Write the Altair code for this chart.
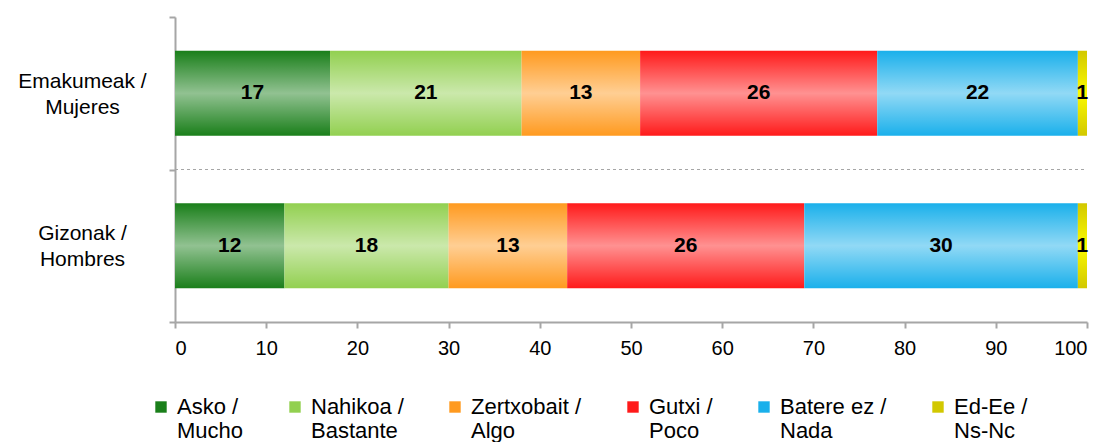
import altair as alt
import pandas as pd

groups = ["Emakumeak / Mujeres", "Gizonak / Hombres"]
categories = ["Asko / Mucho", "Nahikoa / Bastante", "Zertxobait / Algo",
              "Gutxi / Poco", "Batere ez / Nada", "Ed-Ee / Ns-Nc"]
mujeres = [17, 21, 13, 26, 22, 1]
hombres = [12, 18, 13, 26, 30, 1]
colors = ["#1a7f1a", "#92d050", "#ff9a1f", "#ff1a1a", "#1ab0eb", "#d2c800"]

rows = []
for g, vals in zip(groups, [mujeres, hombres]):
    for i, (c, v) in enumerate(zip(categories, vals)):
        rows.append({"group": g, "category": c, "value": v, "order": i})
df = pd.DataFrame(rows)

FONT = "Liberation Sans"
SPLIT = ("isValid(datum.label) && indexof(datum.label, ' / ') >= 0 ? "
         "[split(datum.label, ' / ')[0] + ' /', split(datum.label, ' / ')[1]] : ''")

base = alt.Chart(df).transform_stack(
    stack="value", groupby=["group"], as_=["x0", "x1"],
    sort=[alt.SortField("order", order="ascending")]
).transform_calculate(mid="(datum.x0 + datum.x1) / 2")

yenc = alt.Y("group:N", sort=groups, title=None,
             scale=alt.Scale(paddingInner=0, paddingOuter=0),
             axis=alt.Axis(tickBand="extent", labelExpr=SPLIT,
                           labelAlign="center", labelPadding=87, labelFontSize=21,
                           labelLineHeight=26, labelOffset=-12,
                           labelFont=FONT, labelColor="#000000",
                           labelLimit=300,
                           domainColor="#a6a6a6", domainWidth=2, tickColor="#a6a6a6",
                           tickWidth=2, tickSize=6, grid=False))

xscale = alt.Scale(domain=[0, 100], nice=False)
xaxis = alt.Axis(values=list(range(0, 101, 10)), labelFontSize=20, labelFont=FONT,
                 labelColor="#000000", domainColor="#a6a6a6", domainWidth=2,
                 tickColor="#a6a6a6", tickWidth=2, tickSize=6, labelPadding=10,
                 grid=False, title=None)

bars = base.mark_bar(size=85).encode(
    y=yenc,
    x=alt.X("x0:Q", scale=xscale, axis=xaxis),
    x2="x1:Q",
    color=alt.Color("category:N", sort=categories,
                    scale=alt.Scale(domain=categories, range=colors),
                    legend=alt.Legend(orient="none", legendX=-25, legendY=379,
                                      direction="horizontal", title=None,
                                      symbolType="square", symbolSize=130,
                                      symbolStrokeWidth=0, symbolOpacity=1,
                                      labelFont=FONT, labelFontSize=22,
                                      labelBaseline="middle",
                                      labelOffset=5, columnPadding=40,
                                      labelLimit=300,
                                      labelExpr=SPLIT)),
)

white_grad = alt.Gradient(gradient="linear", x1=0, x2=0, y1=0, y2=1, stops=[
    alt.GradientStop(color="rgba(255,255,255,0)", offset=0),
    alt.GradientStop(color="rgba(255,255,255,0.52)", offset=0.5),
    alt.GradientStop(color="rgba(255,255,255,0)", offset=1),
])
yellow_grad = alt.Gradient(gradient="linear", x1=0, x2=0, y1=0, y2=1, stops=[
    alt.GradientStop(color="rgba(255,255,0,0)", offset=0),
    alt.GradientStop(color="rgba(255,255,0,0.9)", offset=0.5),
    alt.GradientStop(color="rgba(255,255,0,0)", offset=1),
])

shine = base.mark_bar(size=85).encode(
    y=alt.Y("group:N", sort=groups),
    x=alt.X("x0:Q", scale=xscale),
    x2="x1:Q",
    fill=alt.condition(alt.datum.category == "Ed-Ee / Ns-Nc",
                       alt.value(yellow_grad), alt.value(white_grad)),
)

labels = base.mark_text(font=FONT, fontSize=21, fontWeight="bold",
                        color="#000000", baseline="middle").encode(
    y=alt.Y("group:N", sort=groups),
    x=alt.X("mid:Q", scale=xscale),
    text="value:Q",
)

sep = alt.Chart(pd.DataFrame({"group": [groups[1]]})).mark_rule(
    color="#a6a6a6", strokeDash=[3, 3], strokeWidth=1
).encode(
    y=alt.Y("group:N", sort=groups, bandPosition=0),
    x=alt.value(0), x2=alt.value(912),
)

chart = alt.layer(sep, bars, shine, labels).properties(
    width=912, height=305,
    padding={"left": 167, "top": 9, "right": 4, "bottom": 120},
    autosize=alt.AutoSizeParams(type="none"),
).configure_view(stroke=None)

chart.save("out.html", embed_options={"renderer": "svg", "actions": False})
